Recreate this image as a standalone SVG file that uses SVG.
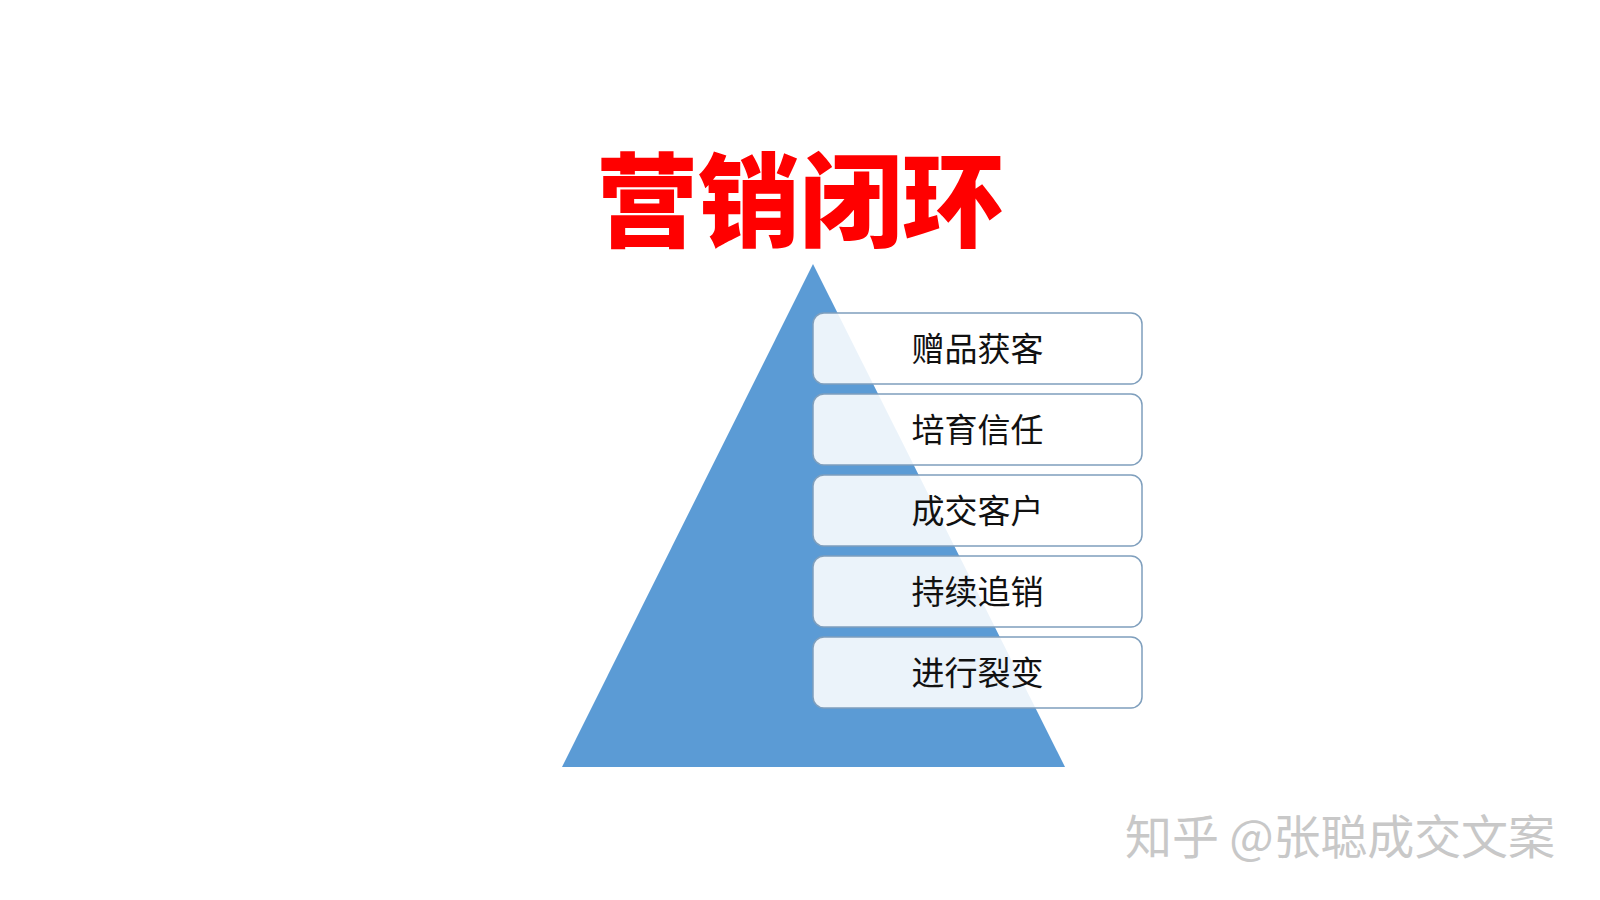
<svg xmlns="http://www.w3.org/2000/svg" width="1600" height="900" viewBox="0 0 1600 900">
  <style>
    .box { fill: #ffffff; fill-opacity: 0.88; stroke: #7f9fbd; stroke-width: 1.5; }
    .lbl { font-family: "Noto Sans CJK SC", "Noto Sans", sans-serif; font-size: 33px; fill: #111111; text-anchor: middle; dominant-baseline: central; }
  </style>
  <rect width="1600" height="900" fill="#ffffff"/>
  <text x="800" y="194" font-family="Noto Sans CJK SC, sans-serif" font-weight="900" font-size="102" fill="#ff0000" text-anchor="middle" dominant-baseline="central">营销闭环</text>
  <g id="pyramid">
    <polygon points="813,264 1065,767 562,767" fill="#5b9bd5"/>
  </g>
  <g id="connectors"></g>
  <g id="node1">
    <rect class="box" x="813" y="313" width="329" height="71" rx="11"/>
    <text class="lbl" x="977.5" y="346.5">赠品获客</text>
  </g>
  <g id="node2">
    <rect class="box" x="813" y="394" width="329" height="71" rx="11"/>
    <text class="lbl" x="977.5" y="427.5">培育信任</text>
  </g>
  <g id="node3">
    <rect class="box" x="813" y="475" width="329" height="71" rx="11"/>
    <text class="lbl" x="977.5" y="508.5">成交客户</text>
  </g>
  <g id="node4">
    <rect class="box" x="813" y="556" width="329" height="71" rx="11"/>
    <text class="lbl" x="977.5" y="589.5">持续追销</text>
  </g>
  <g id="node5">
    <rect class="box" x="813" y="637" width="329" height="71" rx="11"/>
    <text class="lbl" x="977.5" y="670.5">进行裂变</text>
  </g>
  <text x="1125" y="833" font-family="Noto Sans CJK SC, sans-serif" font-size="47" fill="#c8c8c8" dominant-baseline="central" textLength="430" lengthAdjust="spacing">知乎 @张聪成交文案</text>
</svg>
